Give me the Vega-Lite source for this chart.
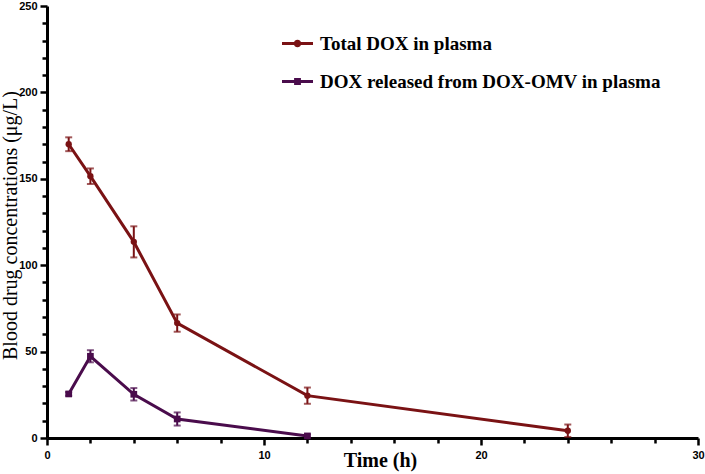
{
  "$schema": "https://vega.github.io/schema/vega-lite/v6.json",
  "width": 651,
  "height": 432,
  "autosize": "none",
  "padding": {"left": 47, "top": 6, "right": 7, "bottom": 36},
  "background": "white",
  "data": {
    "values": [
      {"series": "Total DOX in plasma", "time": 1, "conc": 170, "err": 4},
      {"series": "Total DOX in plasma", "time": 2, "conc": 151.5, "err": 4.5},
      {"series": "Total DOX in plasma", "time": 4, "conc": 113.5, "err": 9},
      {"series": "Total DOX in plasma", "time": 6, "conc": 66.5, "err": 5},
      {"series": "Total DOX in plasma", "time": 12, "conc": 24.5, "err": 4.7},
      {"series": "Total DOX in plasma", "time": 24, "conc": 4.2, "err": 3.6},
      {"series": "DOX released from DOX-OMV in plasma", "time": 1, "conc": 25.5, "err": 1},
      {"series": "DOX released from DOX-OMV in plasma", "time": 2, "conc": 47.3, "err": 3.5},
      {"series": "DOX released from DOX-OMV in plasma", "time": 4, "conc": 25.3, "err": 3.6},
      {"series": "DOX released from DOX-OMV in plasma", "time": 6, "conc": 11, "err": 3.8},
      {"series": "DOX released from DOX-OMV in plasma", "time": 12, "conc": 1.2, "err": 0.8}
    ]
  },
  "config": {
    "view": {"stroke": null},
    "axis": {
      "domainColor": "black",
      "domainWidth": 3,
      "tickColor": "black",
      "tickWidth": 2.5,
      "grid": false,
      "labelFont": "Liberation Sans",
      "labelFontWeight": "bold",
      "labelFontSize": 11,
      "labelColor": "black",
      "titleFont": "Liberation Serif",
      "titleFontWeight": "bold",
      "titleColor": "black"
    }
  },
  "encoding": {
    "x": {
      "field": "time",
      "type": "quantitative",
      "scale": {"domain": [0, 30], "nice": false},
      "axis": {
        "values": [0, 2, 4, 6, 8, 10, 12, 14, 16, 18, 20, 22, 24, 26, 28, 30],
        "labelExpr": "datum.value % 10 === 0 ? datum.label : ''",
        "tickSize": {"condition": {"test": "datum.value % 10 === 0", "value": 7}, "value": 5},
        "labelPadding": 4,
        "title": "Time (h)",
        "titleFontSize": 20,
        "titleX": 333,
        "titleY": 28,
        "titleBaseline": "alphabetic",
        "labelFlush": false
      }
    },
    "y": {
      "field": "conc",
      "type": "quantitative",
      "scale": {"domain": [0, 250], "nice": false},
      "axis": {
        "values": [0, 10, 20, 30, 40, 50, 60, 70, 80, 90, 100, 110, 120, 130, 140, 150, 160, 170, 180, 190, 200, 210, 220, 230, 240, 250],
        "labelExpr": "datum.value % 50 === 0 ? datum.label : ''",
        "tickSize": {"condition": {"test": "datum.value % 50 === 0", "value": 7}, "value": 5},
        "labelPadding": 3,
        "title": "Blood drug concentrations (μg/L)",
        "titleFontSize": 20,
        "titleFontWeight": "normal",
        "titleX": -37,
        "titleY": 219,
        "titleAngle": -90,
        "titleAlign": "center",
        "titleBaseline": "middle",
        "labelFlush": false
      }
    },
    "color": {
      "field": "series",
      "type": "nominal",
      "scale": {
        "domain": ["Total DOX in plasma", "DOX released from DOX-OMV in plasma"],
        "range": ["#7a1214", "#4a0c4c"]
      },
      "legend": {
        "title": null,
        "orient": "none",
        "legendX": 235,
        "legendY": 22,
        "padding": 0,
        "symbolSize": 961,
        "symbolType": "M-1,-0.1 L1,-0.1 L1,0.1 L-1,0.1 Z",
        "symbolStrokeWidth": 0,
        "symbolOpacity": 1,
        "labelFont": "Liberation Serif",
        "labelFontWeight": "bold",
        "labelFontSize": 19,
        "labelColor": "black",
        "labelOffset": 7,
        "rowPadding": 12,
        "labelLimit": 400,
        "encode": {
          "symbols": {
            "update": {
              "shape": {"signal": "datum.value === 'Total DOX in plasma' ? 'M-1,-0.1 L1,-0.1 L1,0.1 L-1,0.1 Z M0.24,0 A0.24,0.24 0 1,1 -0.24,0 A0.24,0.24 0 1,1 0.24,0 Z' : 'M-1,-0.1 L1,-0.1 L1,0.1 L-1,0.1 Z M-0.22,-0.22 L0.22,-0.22 L0.22,0.22 L-0.22,0.22 Z'"},
              "strokeWidth": {"value": 0}
            }
          }
        }
      }
    }
  },
  "layer": [
    {
      "mark": {"type": "line", "strokeWidth": 3}
    },
    {
      "transform": [{"filter": "datum.series === 'Total DOX in plasma'"}],
      "mark": {"type": "point", "filled": true, "opacity": 1, "size": 40, "shape": "circle"}
    },
    {
      "transform": [{"filter": "datum.series !== 'Total DOX in plasma'"}],
      "mark": {"type": "point", "filled": true, "opacity": 1, "size": 45, "shape": "square"}
    },
    {
      "mark": {"type": "errorbar", "ticks": {"size": 7, "thickness": 2}, "thickness": 2},
      "encoding": {
        "yError": {"field": "err"}
      }
    }
  ]
}
